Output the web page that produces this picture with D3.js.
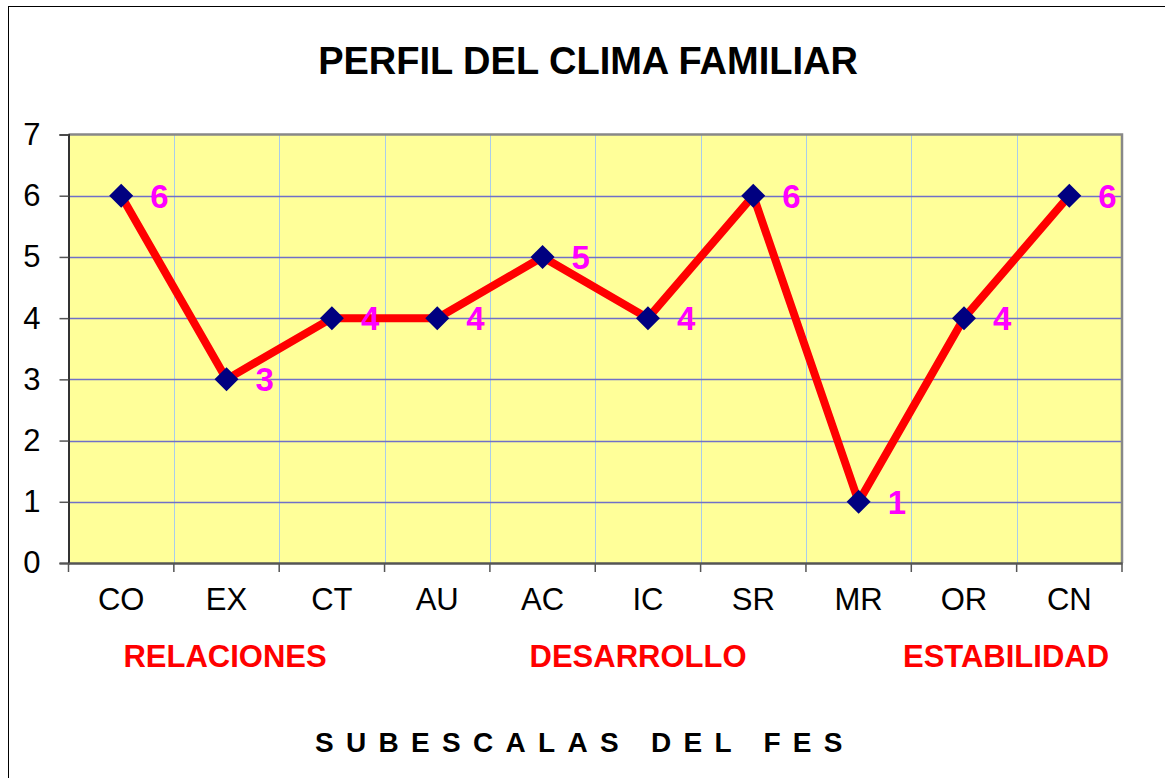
<!DOCTYPE html>
<html><head><meta charset="utf-8">
<script src="https://cdn.jsdelivr.net/npm/d3@7"></script>
<style>body{margin:0;background:#fff;} svg{display:block;font-family:Arial,"Liberation Sans",sans-serif;}</style>
</head><body>
<svg id="c" width="1165" height="778"></svg>
<script>
const categories = ["CO","EX","CT","AU","AC","IC","SR","MR","OR","CN"];
const values = [6,3,4,4,5,4,6,1,4,6];
const yTicks = [0,1,2,3,4,5,6,7];
const groups = [
  {label:"RELACIONES", cx:225},
  {label:"DESARROLLO", cx:638},
  {label:"ESTABILIDAD", cx:1006}
];
const title = "PERFIL DEL CLIMA FAMILIAR";
const xTitle = "SUBESCALAS DEL FES";

const svg = d3.select("#c");
// outer chart frame
svg.append("rect").attr("x",8.5).attr("y",6.5).attr("width",1200).attr("height",800)
  .attr("fill","#fff").attr("stroke","#000").attr("stroke-width",1);

const L=68.5, T=134.5, R=1122, B=563;
const x = d3.scaleBand().domain(categories).range([L,R]).padding(0);
const y = d3.scaleLinear().domain([0,7]).range([B,T]);

// plot background
svg.append("rect").attr("x",L).attr("y",T).attr("width",R-L).attr("height",B-T).attr("fill","#FFFF99");

// vertical gridlines at band boundaries
const bounds = categories.slice(1).map(c=>x(c));
svg.append("g").selectAll("line").data(bounds).join("line")
  .attr("x1",d=>Math.round(d)+0.5).attr("x2",d=>Math.round(d)+0.5).attr("y1",T).attr("y2",B)
  .attr("stroke","#A9CDEB").attr("stroke-width",1);

// horizontal gridlines
svg.append("g").selectAll("line").data(yTicks.filter(t=>t>0&&t<7)).join("line")
  .attr("x1",L).attr("x2",R).attr("y1",d=>Math.round(y(d))+0.5).attr("y2",d=>Math.round(y(d))+0.5)
  .attr("stroke","#7070C8").attr("stroke-width",1.5);

// top & right border
svg.append("path").attr("d",`M${L},${T}H${R}V${B}`).attr("fill","none").attr("stroke","#888").attr("stroke-width",2.5);

// y axis
const yAxis = d3.axisLeft(y).tickValues(yTicks).tickSize(9).tickPadding(19).tickFormat(d3.format("d"));
const gy = svg.append("g").attr("transform",`translate(${L},0)`).call(yAxis);
gy.select(".domain").attr("stroke","#333").attr("stroke-width",2);
gy.selectAll(".tick line").attr("stroke","#555").attr("stroke-width",1.5);
gy.selectAll(".tick text").attr("font-size",31).attr("fill","#000").attr("font-family","Arial, 'Liberation Sans', sans-serif");

// x axis
const xAxis = d3.axisBottom(x).tickSize(0).tickPadding(25);
const gx = svg.append("g").attr("transform",`translate(0,${B})`).call(xAxis);
gx.select(".domain").attr("stroke","#555").attr("stroke-width",2.5);
gx.selectAll(".tick text").attr("font-size",31).attr("fill","#000").attr("font-family","Arial, 'Liberation Sans', sans-serif");
// x tick marks at band boundaries
const allBounds = categories.map(c=>x(c)).concat([x(categories[categories.length-1])+x.bandwidth()]);
svg.append("g").selectAll("line").data(allBounds).join("line")
  .attr("x1",d=>d).attr("x2",d=>d).attr("y1",B).attr("y2",B+9)
  .attr("stroke","#555").attr("stroke-width",1.5);

// line
const cx = c => x(c)+x.bandwidth()/2;
const line = d3.line().x((d,i)=>cx(categories[i])).y(d=>y(d));
svg.append("path").datum(values).attr("d",line).attr("fill","none")
  .attr("stroke","#FF0000").attr("stroke-width",8).attr("stroke-linejoin","miter");

// markers
svg.append("g").selectAll("path").data(values).join("path")
  .attr("transform",(d,i)=>`translate(${cx(categories[i])},${y(d)})`)
  .attr("d","M0,-12L12,0L0,12L-12,0Z").attr("fill","#000080");

// value labels
svg.append("g").selectAll("text").data(values).join("text")
  .attr("x",(d,i)=>cx(categories[i])+29).attr("y",d=>y(d)).attr("dy","0.36em")
  .attr("font-size",33).attr("font-weight","bold").attr("fill","#FF00FF").text(d=>d);

// group labels
svg.append("g").selectAll("text").data(groups).join("text")
  .attr("x",d=>d.cx).attr("y",667).attr("text-anchor","middle")
  .attr("font-size",31).attr("font-weight","bold").attr("fill","#FF0000").text(d=>d.label);

// title
svg.append("text").attr("x",588).attr("y",74).attr("text-anchor","middle")
  .attr("font-size",38).attr("font-weight","bold").attr("fill","#000").text(title);

// x axis title
svg.append("text").attr("x",315).attr("y",752).attr("text-anchor","start")
  .attr("font-size",28).attr("font-weight","bold").attr("letter-spacing","12.3px").attr("fill","#000").text(xTitle);
</script>
</body></html>
